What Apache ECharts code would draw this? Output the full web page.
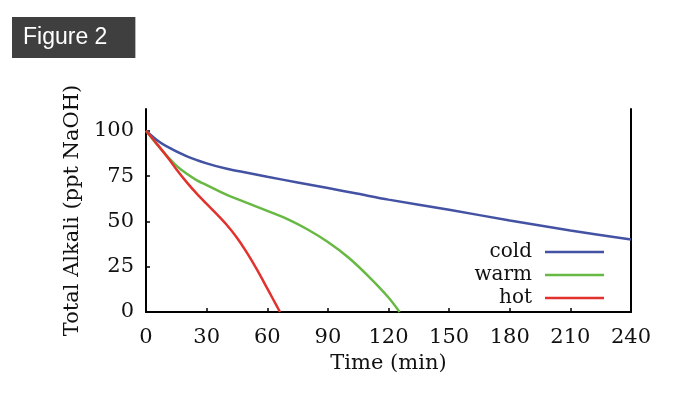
<!DOCTYPE html>
<html>
<head>
<meta charset="utf-8">
<script src="https://cdn.jsdelivr.net/npm/echarts@6/dist/echarts.min.js"></script>
<style>
html, body { margin: 0; padding: 0; background: #fff; }
#main { width: 700px; height: 398px; }
</style>
</head>
<body>
<div id="main"></div>
<script>
var yTicks = [0, 25, 50, 75, 100]
var names = ['cold', 'warm', 'hot']
var colors = ['#4352a3', '#67b944', '#e2322e']

// [min, ppt NaOH]
var cold = [[0, 100], [5, 95.2], [10, 91.5], [20, 86], [30, 82], [40, 79], [50, 76.8], [60, 74.6], [75, 71.5],
    [90, 68.4], [105, 65.2], [120, 62], [150, 56.4], [180, 50.5], [210, 45], [240, 40]]
var warm = [[0, 100], [5, 93], [10, 86.6], [15, 80.8], [20, 76.4], [25, 72.8], [30, 70], [40, 64.6], [50, 60.2],
    [60, 55.8], [70, 51.2], [80, 45.5], [90, 38.6], [100, 30.2], [110, 19.8], [120, 8], [125.5, 0]]
var hot = [[0, 100], [5, 93.3], [10, 86.3], [15, 78.8], [20, 71.8], [25, 65.4], [30, 59.6], [35, 54], [40, 48],
    [45, 41], [50, 32.6], [55, 23.2], [60, 13], [65, 2.7], [66.3, 0]]
var seriesData = [cold, warm, hot]

var serif = 'DejaVu Serif'
var myChart = echarts.init(document.getElementById('main'))

var series = [], legends = []
for (var i = 0; i < names.length; i++) {
    series.push({
        name: names[i],
        type: 'line',
        data: seriesData[i],
        smooth: 0.3,
        showSymbol: false,
        lineStyle: { color: colors[i], width: 2.5 },
        itemStyle: { color: colors[i] },
        z: 3 + i
    })
    // one legend per item so the keys line up on the right
    legends.push({
        data: [names[i]],
        right: 91,
        top: 237 + i * 23,
        align: 'right',
        icon: 'rect',
        itemWidth: 59,
        itemHeight: 2.5,
        textStyle: { fontFamily: serif, fontSize: 20, color: '#111', padding: [0, 8, 0, 0] }
    })
}

option = {
    animation: false,
    title: {
        text: 'Figure 2',
        left: 12,
        top: 17,
        backgroundColor: '#3f3f3f',
        padding: [9, 28, 9, 11],
        textStyle: { color: '#fff', fontFamily: 'Liberation Sans', fontSize: 23, fontWeight: 'normal', lineHeight: 23 }
    },
    legend: legends,
    grid: { left: 146, right: 69, top: 109, bottom: 86 },
    xAxis: {
        type: 'value',
        min: 0,
        max: 240,
        interval: 30,
        name: 'Time (min)',
        nameLocation: 'middle',
        nameGap: 31,
        nameTextStyle: { fontFamily: serif, fontSize: 21, color: '#111' },
        splitLine: { show: false },
        axisLine: { lineStyle: { color: '#000', width: 2 } },
        axisTick: { inside: true, length: 4, lineStyle: { color: '#000', width: 1.5 } },
        axisLabel: { margin: 15, fontFamily: serif, fontSize: 21, color: '#111' }
    },
    yAxis: [{
        type: 'value',
        min: 0,
        max: 112,
        name: 'Total Alkali (ppt NaOH)',
        nameLocation: 'middle',
        nameGap: 55,
        nameTextStyle: { fontFamily: serif, fontSize: 21, color: '#111' },
        splitLine: { show: false },
        axisLine: { show: true, lineStyle: { color: '#000', width: 2 } },
        axisTick: { inside: true, length: 4, customValues: yTicks, lineStyle: { color: '#000', width: 1.5 } },
        axisLabel: { margin: 12, customValues: yTicks, fontFamily: serif, fontSize: 21, color: '#111' }
    }, {
        type: 'value',
        min: 0,
        max: 112,
        position: 'right',
        splitLine: { show: false },
        axisLine: { show: true, lineStyle: { color: '#000', width: 2 } },
        axisTick: { show: false },
        axisLabel: { show: false }
    }],
    series: series
}

myChart.setOption(option)
</script>
</body>
</html>
